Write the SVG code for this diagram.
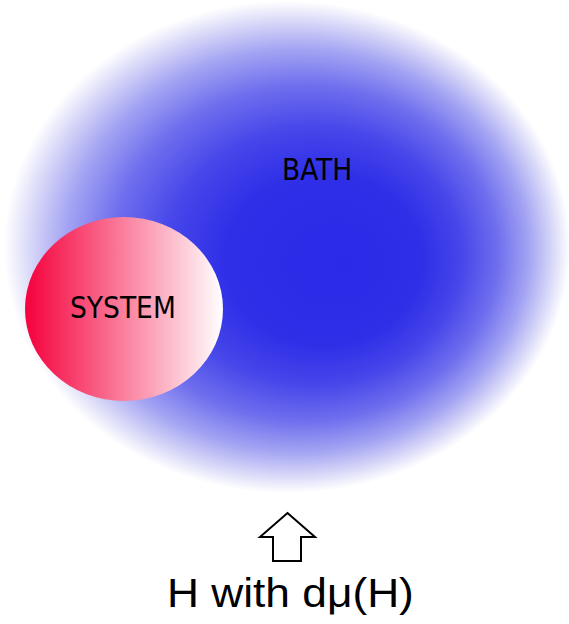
<svg xmlns="http://www.w3.org/2000/svg" width="569" height="624" viewBox="0 0 569 624">
  <style>
    .lbl { font-family: "DejaVu Sans Condensed", "DejaVu Sans", sans-serif; font-stretch: condensed; font-size: 29.5px; fill: #000; }
    .cap { font-family: "Liberation Sans", Arial, sans-serif; font-size: 41px; fill: #000; }
    .arrow { fill: #fff; stroke: #000; stroke-width: 2; stroke-linejoin: miter; }
  </style>
  <defs>
    <radialGradient id="bathGrad" cx="0.5" cy="0.5" r="0.5" fx="0.6" fy="0.54">
      <stop offset="0" stop-color="#2a2ae8"/>
      <stop offset="0.35" stop-color="#2f2fe8"/>
      <stop offset="0.52" stop-color="#4646ea"/>
      <stop offset="0.68" stop-color="#6e6eee"/>
      <stop offset="0.82" stop-color="#a4a4f3"/>
      <stop offset="0.92" stop-color="#d6d6f8"/>
      <stop offset="1" stop-color="#ffffff"/>
    </radialGradient>
    <linearGradient id="sysGrad" x1="0" y1="0" x2="1" y2="0">
      <stop offset="0" stop-color="#f5003c"/>
      <stop offset="1" stop-color="#ffffff"/>
    </linearGradient>
  </defs>
  <rect width="569" height="624" fill="#fff"/>
  <g id="bath">
    <ellipse cx="287" cy="247" rx="283" ry="246" fill="url(#bathGrad)"/>
    <text class="lbl" x="282" y="180">BATH</text>
  </g>
  <g id="system">
    <ellipse cx="124" cy="309" rx="99" ry="92" fill="url(#sysGrad)"/>
    <text class="lbl" x="70" y="318">SYSTEM</text>
  </g>
  <g id="connectors">
    <path class="arrow" d="M287.5,513 L315,537 L301,537 L301,561 L273,561 L273,537 L260,537 Z"/>
  </g>
  <g id="caption">
    <text class="cap" transform="translate(167,607) scale(1.08,1)" x="0" y="0">H with dμ(H)</text>
  </g>
</svg>
